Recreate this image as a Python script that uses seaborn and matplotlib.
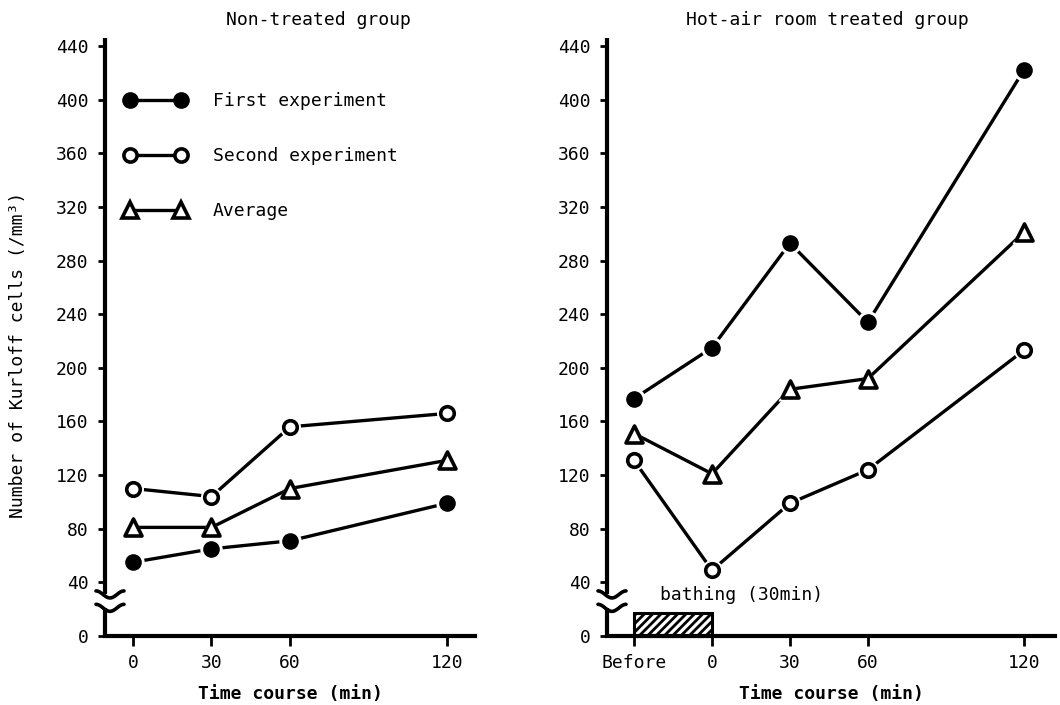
import numpy as np
import pandas as pd
import matplotlib
matplotlib.use("Agg")
import matplotlib.pyplot as plt
from matplotlib.lines import Line2D
from matplotlib.patches import Rectangle
import seaborn as sns

# ---------------- data ----------------
left_times = [0, 30, 60, 120]
left_first = [55, 65, 71, 99]
left_second = [110, 104, 156, 166]
left_average = [81, 81, 110, 131]

right_times = [-30, 0, 30, 60, 120]          # "Before" = 30 min before start
right_tick_labels = ["Before", "0", "30", "60", "120"]
right_first = [177, 215, 293, 234, 422]
right_second = [131, 49, 99, 124, 213]
right_average = [151, 121, 184, 192, 301]

y_ticks = [0, 40, 80, 120, 160, 200, 240, 280, 320, 360, 400, 440]
series_names = ["First experiment", "Second experiment", "Average"]

# ---------------- style ----------------
sns.set_theme(style="ticks")
plt.rcParams["font.family"] = ["DejaVu Sans Mono", "DejaVu Sans"]
plt.rcParams["hatch.linewidth"] = 2.0
for key in ["text.color", "axes.labelcolor", "xtick.color", "ytick.color", "axes.edgecolor"]:
    plt.rcParams[key] = "black"
FS = 13

W, H = 1060, 705
fig = plt.figure(figsize=(W / 100, H / 100), dpi=100)
ax1 = fig.add_axes([105 / W, 1 - 636 / H, 370 / W, 598 / H])
ax2 = fig.add_axes([607 / W, 1 - 636 / H, 448 / W, 598 / H])

marker_style = {
    "First experiment": dict(marker="o", s=120, facecolor="black", edgecolor="black", linewidth=1),
    "Second experiment": dict(marker="o", s=95, facecolor="white", edgecolor="black", linewidth=2.6),
    "Average": dict(marker="^", s=150, facecolor="white", edgecolor="black", linewidth=2.6),
}
halo_size = {"First experiment": 260, "Second experiment": 230, "Average": 300}


def draw_panel(ax, times, first, second, average):
    df = pd.DataFrame({
        "time": list(times) * 3,
        "value": list(first) + list(second) + list(average),
        "series": np.repeat(series_names, len(times)),
    })
    sns.lineplot(data=df, x="time", y="value", units="series", estimator=None,
                 color="black", linewidth=2.4, ax=ax, legend=False, zorder=2)
    for name in series_names:
        sub = df[df["series"] == name]
        sns.scatterplot(data=sub, x="time", y="value", color="white", s=halo_size[name],
                        marker=marker_style[name]["marker"], linewidth=0, ax=ax,
                        legend=False, zorder=3)
        sns.scatterplot(data=sub, x="time", y="value", ax=ax, legend=False, zorder=4,
                        **marker_style[name])


def axis_break(ax, lo, hi, ymax):
    bbox = ax.get_position()
    ax_w_px = bbox.width * W
    ax_h_px = bbox.height * H
    ylim = ax.get_ylim()
    px_per_unit = ax_h_px / (ylim[1] - ylim[0])
    tr = ax.get_yaxis_transform()
    ax.plot([0, 0], [0, lo], color="black", lw=3, transform=tr, clip_on=False, solid_capstyle="butt")
    ax.plot([0, 0], [hi, ymax], color="black", lw=3, transform=tr, clip_on=False, solid_capstyle="butt")
    t = np.linspace(0, 1, 60)
    xs_px = -9 + 28 * t
    for yc in (lo, hi):
        ys = yc + (3.5 * np.sin(2 * np.pi * (t - 0.25)) * -1) / px_per_unit
        ax.plot(xs_px / ax_w_px, ys, color="black", lw=2.6, transform=tr, clip_on=False)


for ax in (ax1, ax2):
    ax.set_ylim(0, 446)
ax1.set_xlim(-10.7, 130.7)
ax2.set_xlim(-40.4, 132)

draw_panel(ax1, left_times, left_first, left_second, left_average)
draw_panel(ax2, right_times, right_first, right_second, right_average)

for ax in (ax1, ax2):
    ax.spines["top"].set_visible(False)
    ax.spines["right"].set_visible(False)
    ax.spines["left"].set_visible(False)
    ax.spines["bottom"].set_linewidth(3)
    ax.spines["bottom"].set_color("black")
    ax.set_yticks(y_ticks)
    ax.set_yticklabels([str(v) for v in y_ticks])
    ax.tick_params(axis="y", direction="out", length=5, width=2, pad=7, labelsize=FS, color="black")
    ax.tick_params(axis="x", direction="out", length=7, width=2, pad=6, labelsize=FS, color="black")
    ax.set_xlabel("Time course (min)", fontsize=FS, fontweight="bold", labelpad=9)
    ax.set_ylabel("")
    axis_break(ax, 21, 31, 446)

ax1.set_xticks(left_times)
ax1.set_xticklabels([str(v) for v in left_times])
ax2.set_xticks(right_times)
ax2.set_xticklabels(right_tick_labels)

ax1.set_ylabel("Number of Kurloff cells (/mm³)", fontsize=FS)
ax1.yaxis.set_label_coords(-0.21, 0.47)

ax1.text(0.576, 1.03, "Non-treated group", transform=ax1.transAxes, ha="center",
         va="center", fontsize=FS)
ax2.text(0.491, 1.03, "Hot-air room treated group", transform=ax2.transAxes, ha="center",
         va="center", fontsize=FS)

# bathing period
ax2.add_patch(Rectangle((right_times[0], 0), right_times[1] - right_times[0], 17,
                        fill=False, hatch="////", edgecolor="black", lw=2.2, zorder=5,
                        clip_on=False))
ax2.text(-20, 30.5, "bathing (30min)", fontsize=FS, ha="left", va="center")

# legend
handles = [
    Line2D([], [], color="black", lw=2.4, marker="o", markersize=11,
           markerfacecolor="black", markeredgecolor="black"),
    Line2D([], [], color="black", lw=2.4, marker="o", markersize=9.5,
           markerfacecolor="white", markeredgecolor="black", markeredgewidth=2.6),
    Line2D([], [], color="black", lw=2.4, marker="^", markersize=11,
           markerfacecolor="white", markeredgecolor="black", markeredgewidth=2.6),
]
ax1.legend(handles, series_names, numpoints=2, frameon=False, fontsize=FS,
           loc="upper left", bbox_to_anchor=(0.053, 0.910), borderpad=0,
           borderaxespad=0, handlelength=3.4, handletextpad=1.5, labelspacing=2.05)

fig.savefig("out.png", dpi=100)
